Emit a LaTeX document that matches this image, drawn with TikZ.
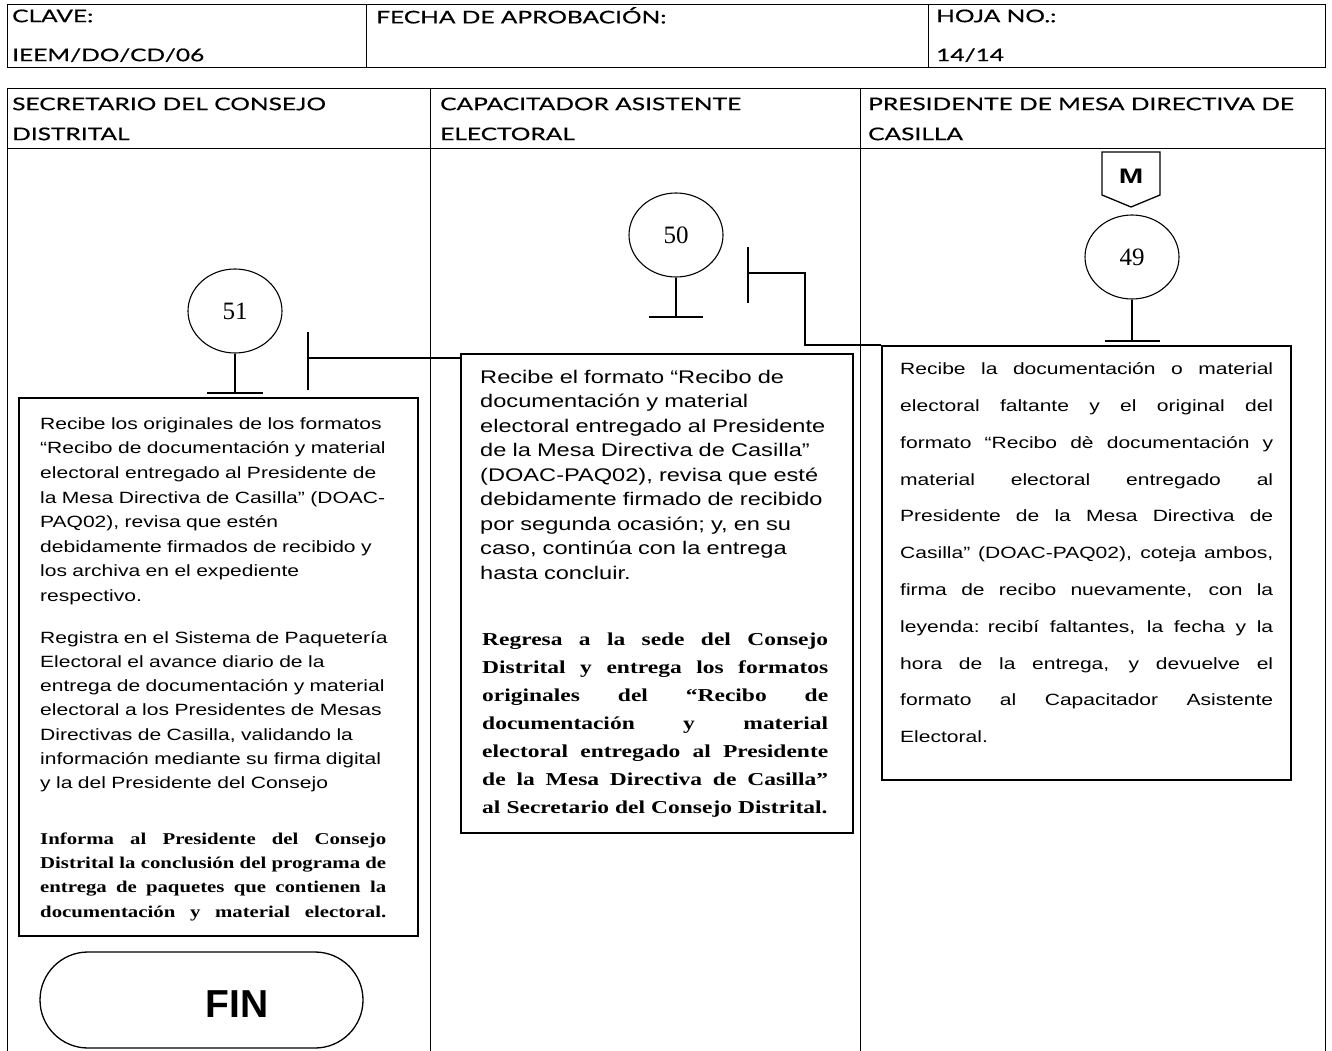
\documentclass[tikz,border=0pt]{standalone}
\usepackage{fontspec}
\usetikzlibrary{shapes.geometric,shapes.misc,calc}
\newfontfamily\arialf[FakeStretch=1.29]{Liberation Sans}
\newfontfamily\arialwide[FakeStretch=1.4]{Liberation Sans}
\newfontfamily\arialplain{Liberation Sans}
\newfontfamily\timesf[FakeStretch=1.29]{Liberation Serif}
\newfontfamily\timesn[FakeStretch=1.26]{Liberation Serif}
\newfontfamily\timesplain{Liberation Serif}
\newfontfamily\gillf[FakeStretch=1.4,FakeBold=0.5]{Lato}
\newcommand{\jl}[2]{\leavevmode\hbox to #1{\spaceskip=\fontdimen2\font plus 1fil\relax #2}}
\newcommand{\topstrut}{\rule{0pt}{18pt}}
\begin{document}
\begin{tikzpicture}[x=1pt,y=-1pt,
  tbl/.style={line width=0.9pt},
  stepbox/.style={draw, line width=1.5pt, rectangle, inner sep=0, anchor=north west},
  stepnum/.style={draw, ellipse, line width=1.1pt, minimum width=94pt, minimum height=84pt, inner sep=0, font=\timesplain\fontsize{25}{25}\selectfont},
  stem/.style={line width=1.4pt},
  bar/.style={line width=2pt},
  flow/.style={line width=1.5pt},
  txt/.style={inner sep=0, anchor=north west, align=left},
  hdr/.style={inner sep=0, anchor=north west, align=left, font=\gillf\fontsize{17.5}{30}\selectfont},
  hdrtop/.style={inner sep=0, anchor=north west, align=left, font=\gillf\fontsize{17.5}{39}\selectfont}]
\useasboundingbox (0,0) rectangle (1332,1051);
\fill[white] (0,0) rectangle (1332,1051);

% header table
\draw[tbl] (7,4) rectangle (1325,67);
\draw[tbl] (366,4) -- (366,67);
\draw[tbl] (928,4) -- (928,67);
\node[hdrtop] (clave) at (12,7) {\rule{0pt}{15pt}CLAVE:\\IEEM/DO/CD/06};
\node[hdrtop] (fecha) at (376,7) {\rule{0pt}{15pt}FECHA DE APROBACIÓN:};
\node[hdrtop] (hoja) at (936,7) {\rule{0pt}{15pt}HOJA NO.:\\14/14};

% lane table
\draw[tbl] (7,1051) -- (7,88) -- (1325,88) -- (1325,1051);
\draw[tbl] (7,148) -- (1325,148);
\draw[tbl] (430,88) -- (430,1051);
\draw[tbl] (860,88) -- (860,1051);
\node[hdr] (lane1) at (12,95) {\rule{0pt}{15pt}SECRETARIO DEL CONSEJO\\DISTRITAL};
\node[hdr] (lane2) at (440,95) {\rule{0pt}{15pt}CAPACITADOR ASISTENTE\\ELECTORAL};
\node[hdr] (lane3) at (868,95) {\rule{0pt}{15pt}PRESIDENTE DE MESA DIRECTIVA DE\\CASILLA};

% off-page connector M
\draw[line width=1.3pt] (1102,152) -- (1160,152) -- (1160,195) -- (1131,207) -- (1102,195) -- cycle;
\node[inner sep=0, font=\arialwide\bfseries\fontsize{21}{21}\selectfont] (mk) at (1131,176) {M};

% step circles
\node[stepnum] (c49) at (1132,257) {49};
\node[stepnum] (c50) at (676,235) {50};
\node[stepnum] (c51) at (235,311) {51};

\coordinate (s49) at (1132,341);
\coordinate (s50) at (676,317);
\coordinate (s51) at (235,393);
\draw[stem] (c49.south) -- (s49);
\draw[stem] (c50.south) -- (s50);
\draw[stem] (c51.south) -- (s51);
\draw[bar] ($(s49)+(-27,0)$) -- ($(s49)+(28,0)$);
\draw[bar] ($(s50)+(-27,0)$) -- ($(s50)+(27,0)$);
\draw[bar] ($(s51)+(-28,0)$) -- ($(s51)+(28,0)$);

% boxes
\node[stepbox, minimum width=399pt, minimum height=538pt] (b51) at (18,397) {};
\node[stepbox, minimum width=392pt, minimum height=479pt] (b50) at (460,353) {};
\node[stepbox, minimum width=409pt, minimum height=434pt] (b49) at (881,345) {};

% connectors
\coordinate (k50) at (748,273);
\coordinate (k51) at (308,358);
\draw[flow] (b49.north west) -| ($(k50)+(57,0)$) -- (k50);
\draw[bar] ($(k50)+(0,-26)$) -- ($(k50)+(0,30)$);
\draw[flow] (k51 -| b50.west) -- (k51);
\draw[bar] ($(k51)+(0,-26)$) -- ($(k51)+(0,32)$);

% texts box 51
\node[txt, text width=380pt, font=\arialf\fontsize{16.3}{24.6}\selectfont] (t51a) at (40,411) {\topstrut Recibe los originales de los formatos\\
“Recibo de documentación y material\\
electoral entregado al Presidente de\\
la Mesa Directiva de Casilla” (DOAC-\\
PAQ02), revisa que estén\\
debidamente firmados de recibido y\\
los archiva en el expediente\\
respectivo.};
\node[txt, text width=380pt, font=\arialf\fontsize{16.3}{24.2}\selectfont] (t51b) at (40,625) {\topstrut Registra en el Sistema de Paquetería\\
Electoral el avance diario de la\\
entrega de documentación y material\\
electoral a los Presidentes de Mesas\\
Directivas de Casilla, validando la\\
información mediante su firma digital\\
y la del Presidente del Consejo};
\node[txt, text width=380pt, font=\timesn\bfseries\fontsize{16.5}{24.3}\selectfont] (t51c) at (40,826) {\topstrut\jl{346pt}{Informa al Presidente del Consejo}\\
\jl{346pt}{Distrital la conclusión del programa de}\\
\jl{346pt}{entrega de paquetes que contienen la}\\
\jl{346pt}{documentación y material electoral.}};

% texts box 50
\node[txt, text width=370pt, font=\arialf\fontsize{18.3}{24.5}\selectfont] (t50a) at (480,365) {\topstrut Recibe el formato “Recibo de\\
documentación y material\\
electoral entregado al Presidente\\
de la Mesa Directiva de Casilla”\\
(DOAC-PAQ02), revisa que esté\\
debidamente firmado de recibido\\
por segunda ocasión; y, en su\\
caso, continúa con la entrega\\
hasta concluir.};
\node[txt, text width=370pt, font=\timesf\bfseries\fontsize{18.2}{28}\selectfont] (t50b) at (482,627) {\topstrut\jl{346pt}{Regresa a la sede del Consejo}\\
\jl{346pt}{Distrital y entrega los formatos}\\
\jl{346pt}{originales del “Recibo de}\\
\jl{346pt}{documentación y material}\\
\jl{346pt}{electoral entregado al Presidente}\\
\jl{346pt}{de la Mesa Directiva de Casilla”}\\
al Secretario del Consejo Distrital.};

% text box 49
\node[txt, text width=390pt, font=\arialf\fontsize{16.3}{36.8}\selectfont] (t49) at (900,356.5) {\topstrut\jl{373pt}{Recibe la documentación o material}\\
\jl{373pt}{electoral faltante y el original del}\\
\jl{373pt}{formato “Recibo dè documentación y}\\
\jl{373pt}{material electoral entregado al}\\
\jl{373pt}{Presidente de la Mesa Directiva de}\\
\jl{373pt}{Casilla” (DOAC-PAQ02), coteja ambos,}\\
\jl{373pt}{firma de recibo nuevamente, con la}\\
\jl{373pt}{leyenda: recibí faltantes, la fecha y la}\\
\jl{373pt}{hora de la entrega, y devuelve el}\\
\jl{373pt}{formato al Capacitador Asistente}\\
Electoral.};

% end terminal
\node[draw, rounded rectangle, line width=1.3pt, minimum width=323pt, minimum height=96pt, inner sep=0] (fin) at (201.5,1000) {};
\node[inner sep=0, font=\arialplain\bfseries\fontsize{39}{39}\selectfont] (fintxt) at (237,1004) {FIN};
\end{tikzpicture}
\end{document}
